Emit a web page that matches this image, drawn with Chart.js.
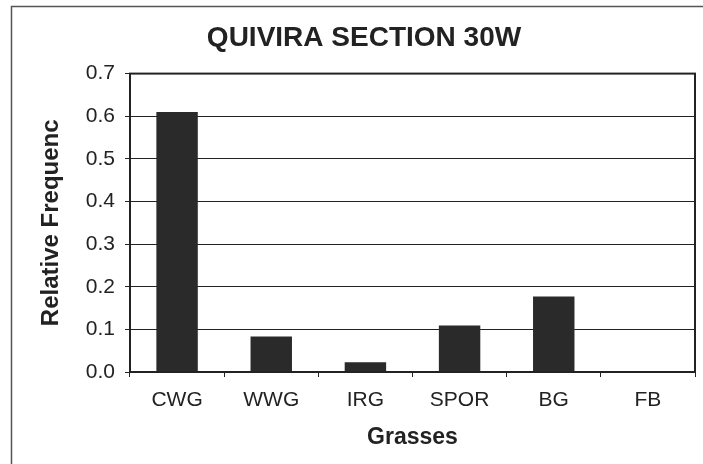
<!DOCTYPE html>
<html>
<head>
<meta charset="utf-8">
<script src="https://cdn.jsdelivr.net/npm/chart.js@4.4.1/dist/chart.umd.min.js"></script>
<style>
  html, body { margin: 0; padding: 0; background: #ffffff; }
  #wrap { width: 703px; height: 464px; position: relative; }
</style>
</head>
<body>
<div id="wrap"><canvas id="c" width="703" height="464"></canvas></div>
<script>
const chartTitle = "QUIVIRA SECTION 30W";
const xAxisTitle = "Grasses";
const yAxisTitle = "Relative Frequenc";
const categories = ["CWG", "WWG", "IRG", "SPOR", "BG", "FB"];
const relFrequency = [0.61, 0.083, 0.023, 0.109, 0.177, 0];
const yTickMin = 0;
const yTickMax = 0.7;
const yTickStep = 0.1;

const ink = "#222222";
const FONT = "'Liberation Sans', Arial, sans-serif";

const framePlugin = {
  id: "framePlugin",
  beforeDraw(chart) {
    const ctx = chart.ctx;
    ctx.save();
    ctx.strokeStyle = "#555555";
    ctx.lineWidth = 1.5;
    ctx.beginPath();
    ctx.moveTo(11.5, 464);
    ctx.lineTo(11.5, 6.5);
    ctx.lineTo(703, 6.5);
    ctx.stroke();
    ctx.restore();
  },
  afterDatasetsDraw(chart) {
    const a = chart.chartArea;
    const ctx = chart.ctx;
    ctx.save();
    ctx.strokeStyle = ink;
    ctx.lineWidth = 2;
    ctx.strokeRect(a.left, a.top, a.right - a.left, a.bottom - a.top);
    ctx.restore();
  }
};

new Chart(document.getElementById("c"), {
  type: "bar",
  data: {
    labels: categories,
    datasets: [{
      data: relFrequency,
      backgroundColor: "#2a2a2a",
      borderWidth: 0,
      categoryPercentage: 1.0,
      barPercentage: 0.44
    }]
  },
  options: {
    responsive: false,
    animation: false,
    devicePixelRatio: 1,
    layout: { padding: { left: 33, right: 8, top: 10, bottom: 0 } },
    plugins: {
      legend: { display: false },
      tooltip: { enabled: false },
      title: {
        display: true,
        text: chartTitle,
        color: ink,
        font: { family: FONT, size: 28, weight: "bold", lineHeight: 1.2 },
        padding: { top: 11, bottom: 19 }
      }
    },
    scales: {
      x: {
        offset: true,
        grid: { display: true, drawOnChartArea: false, drawTicks: true, tickLength: 5, offset: true, color: ink, lineWidth: 1 },
        border: { display: true, color: ink, width: 2 },
        ticks: { color: ink, padding: 11, font: { family: FONT, size: 21, lineHeight: 1.2 }, maxRotation: 0 },
        title: {
          display: true, text: xAxisTitle, color: ink,
          font: { family: FONT, size: 23, weight: "bold", lineHeight: 1.2 },
          padding: { top: 0, bottom: 13 }
        },
        afterFit(scale) { scale.height = 92; }
      },
      y: {
        min: yTickMin,
        max: yTickMax,
        grid: { color: ink, lineWidth: 1, drawTicks: true, tickLength: 5 },
        border: { display: true, color: ink, width: 2 },
        ticks: {
          stepSize: yTickStep,
          color: ink,
          padding: 10,
          font: { family: FONT, size: 21, lineHeight: 1.2 },
          callback: (v) => Number(v).toFixed(1)
        },
        title: {
          display: true, text: yAxisTitle, color: ink,
          font: { family: FONT, size: 24, weight: "bold", lineHeight: 1.2 },
          padding: { top: 4, bottom: 0 }
        },
        afterFit(scale) { scale.width = 97; }
      }
    }
  },
  plugins: [framePlugin]
});
</script>
</body>
</html>
